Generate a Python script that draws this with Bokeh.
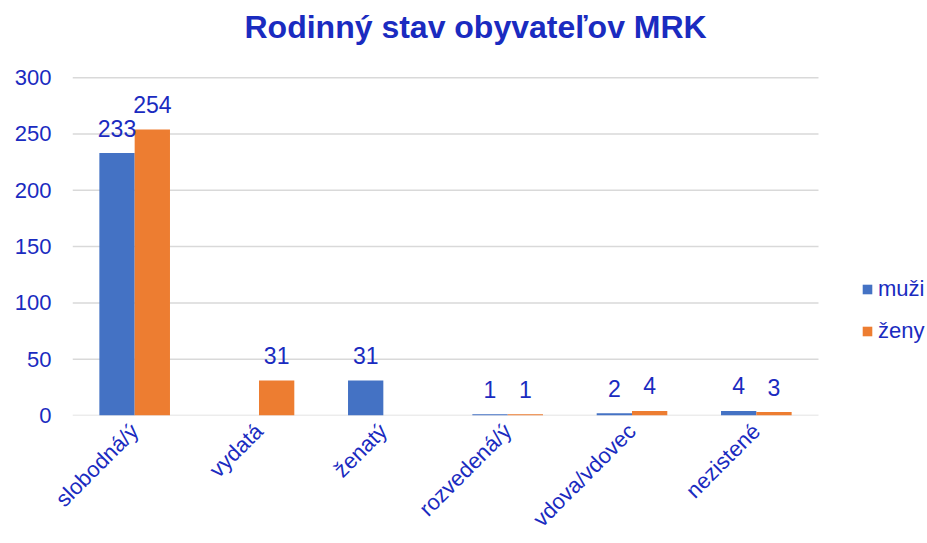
import math
from bokeh.plotting import figure
from bokeh.models import ColumnDataSource, Legend, LegendItem, Range1d, FixedTicker
from bokeh.transform import dodge
from bokeh.core.properties import value
from bokeh.embed import file_html
from bokeh.resources import INLINE

categories = ["slobodná/ý", "vydatá", "ženatý", "rozvedená/ý", "vdova/vdovec", "nezistené"]
muzi = [233, 0, 31, 1, 2, 4]
zeny = [254, 31, 0, 1, 4, 3]
series_names = ["muži", "ženy"]
y_ticks = [0, 50, 100, 150, 200, 250, 300]

BLUE_TXT = "#1a2bc0"
C_M = "#4472c4"
C_Z = "#ed7d31"
GRID = "#d9d9d9"
FONT = "Liberation Sans"

W, H = 927, 543
LEFT, TOP, BOTTOM = 72, 76, H - 415
CAT_PX = 746 / len(categories)

idx = list(range(len(categories)))
src = ColumnDataSource(data=dict(x=idx, muzi=muzi, zeny=zeny))
lab_m = ColumnDataSource(data=dict(
    x=[i for i, v in zip(idx, muzi) if v > 0],
    v=[v for v in muzi if v > 0],
    t=[str(v) for v in muzi if v > 0]))
lab_z = ColumnDataSource(data=dict(
    x=[i for i, v in zip(idx, zeny) if v > 0],
    v=[v for v in zeny if v > 0],
    t=[str(v) for v in zeny if v > 0]))
grid_src = ColumnDataSource(data=dict(
    x0=[-0.5] * len(y_ticks), x1=[len(categories) - 0.5] * len(y_ticks), y=y_ticks))

x_end = -0.5 + (W - LEFT) / CAT_PX
p = figure(width=W, height=H, x_range=Range1d(-0.5, x_end),
           y_range=Range1d(0, 301), output_backend="svg", toolbar_location=None,
           min_border_left=LEFT, min_border_right=0, min_border_top=TOP,
           min_border_bottom=BOTTOM)

p.title.text = "Rodinný stav obyvateľov MRK"
p.title.text_font = FONT
p.title.text_font_size = "32px"
p.title.text_font_style = "bold"
p.title.text_color = BLUE_TXT
p.title.align = "left"
p.title.offset = 172
p.title.vertical_align = "top"
p.title.standoff = 0
p.title.padding = dict(left=0, right=0, top=7, bottom=30)

p.segment(x0="x0", x1="x1", y0="y", y1="y", source=grid_src,
          line_color=GRID, line_width=1.5, level="underlay")

off = 0.142
w = 0.284
r1 = p.vbar(x=dodge("x", -off), top="muzi", width=w, source=src,
            color=C_M, line_color=None)
r2 = p.vbar(x=dodge("x", off), top="zeny", width=w, source=src,
            color=C_Z, line_color=None)

for s, o in ((lab_m, -off), (lab_z, off)):
    p.text(x=dodge("x", o), y="v", text="t", source=s,
           text_font=value(FONT), text_font_size="23px", text_color=BLUE_TXT,
           text_align="center", text_baseline="alphabetic", y_offset=-25)

p.outline_line_color = None
p.xgrid.grid_line_color = None
p.ygrid.grid_line_color = None
p.yaxis.ticker = y_ticks
p.yaxis.axis_line_color = None
p.yaxis.major_tick_line_color = None
p.yaxis.minor_tick_line_color = None
p.yaxis.major_label_text_font = FONT
p.yaxis.major_label_text_font_size = "22px"
p.yaxis.major_label_text_color = BLUE_TXT
p.yaxis.major_label_standoff = 15

p.xaxis.ticker = FixedTicker(ticks=idx)
p.xaxis.major_label_overrides = {i: c for i, c in zip(idx, categories)}
p.xaxis.axis_line_color = None
p.xaxis.major_tick_line_color = None
p.xaxis.minor_tick_line_color = None
p.xaxis.major_label_orientation = math.pi / 4
p.xaxis.major_label_text_font = FONT
p.xaxis.major_label_text_font_size = "22px"
p.xaxis.major_label_text_color = BLUE_TXT
p.xaxis.major_label_standoff = 6

legend = Legend(items=[LegendItem(label=series_names[0], renderers=[r1]),
                       LegendItem(label=series_names[1], renderers=[r2])],
                location=(789, 71), orientation="vertical")
legend.border_line_color = None
legend.background_fill_alpha = 0
legend.padding = 0
legend.margin = 0
legend.spacing = 16
legend.glyph_width = 12
legend.glyph_height = 12
legend.label_standoff = 5
legend.label_text_font = FONT
legend.label_text_font_size = "22px"
legend.label_text_color = BLUE_TXT
legend.label_height = 24
p.add_layout(legend)

open("out.html", "w").write(file_html(p, INLINE))
